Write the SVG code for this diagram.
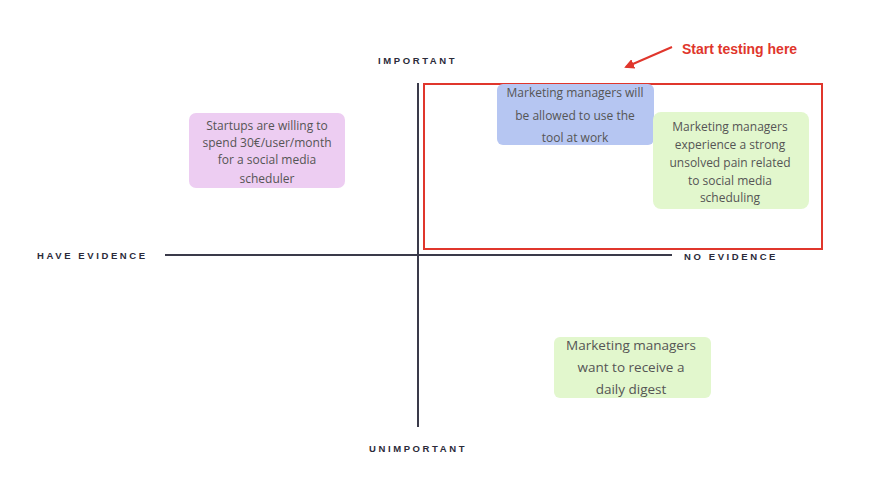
<svg xmlns="http://www.w3.org/2000/svg" width="895" height="486" viewBox="0 0 895 486">
<style>
.ax{font-family:"Liberation Sans",Arial,sans-serif;font-size:9.5px;font-weight:bold;letter-spacing:2.6px;fill:#2b2b3a}
.nt{font-family:"Open Sans","Liberation Sans",sans-serif;font-size:12px;fill:#555;text-anchor:middle}
.nt2{font-family:"Open Sans","Liberation Sans",sans-serif;font-size:13.5px;fill:#555;text-anchor:middle}
</style>
<defs><marker id="ah" markerWidth="10" markerHeight="10" refX="8" refY="5" orient="auto" markerUnits="userSpaceOnUse"><path d="M0,0 L10,5 L0,10 z" fill="#e0362c"/></marker></defs>
<rect width="895" height="486" fill="#fff"/>
<g id="axes" stroke="#3a3a4a" stroke-width="2">
<line x1="418" y1="83" x2="418" y2="427"/>
<line x1="165" y1="255" x2="672" y2="255"/>
</g>
<g id="labels">
<text class="ax" x="378" y="64">IMPORTANT</text>
<text class="ax" x="369" y="452">UNIMPORTANT</text>
<text class="ax" x="37" y="259">HAVE EVIDENCE</text>
<text class="ax" x="684" y="260">NO EVIDENCE</text>
</g>
<g id="connectors">
<rect x="424" y="84" width="398" height="165" fill="none" stroke="#e0362c" stroke-width="2"/>
<line x1="672" y1="47" x2="626" y2="67" stroke="#e0362c" stroke-width="2" marker-end="url(#ah)"/>
<text x="682" y="54" font-family="'Liberation Sans',Arial,sans-serif" font-weight="bold" font-size="14" fill="#e0362c">Start testing here</text>
</g>
<g id="n1"><rect x="189" y="113" width="156" height="75" rx="7" fill="#edcdf2"/>
<text class="nt"><tspan x="267" y="130">Startups are willing to</tspan><tspan x="267" y="147">spend 30€/user/month</tspan><tspan x="267" y="164">for a social media</tspan><tspan x="267" y="183">scheduler</tspan></text></g>
<g id="n2"><rect x="497" y="84" width="157" height="61" rx="6" fill="#b6c6f2"/>
<text class="nt"><tspan x="575" y="97">Marketing managers will</tspan><tspan x="575" y="120">be allowed to use the</tspan><tspan x="575" y="142">tool at work</tspan></text></g>
<g id="n3"><rect x="653" y="112" width="156" height="97" rx="8" fill="#e2f7cd"/>
<text class="nt"><tspan x="730" y="131">Marketing managers</tspan><tspan x="730" y="149">experience a strong</tspan><tspan x="730" y="167">unsolved pain related</tspan><tspan x="730" y="185">to social media</tspan><tspan x="730" y="202">scheduling</tspan></text></g>
<g id="n4"><rect x="554" y="337" width="157" height="61" rx="6" fill="#e2f7cd"/>
<text class="nt2"><tspan x="631" y="350">Marketing managers</tspan><tspan x="631" y="372">want to receive a</tspan><tspan x="631" y="394">daily digest</tspan></text></g>
</svg>
